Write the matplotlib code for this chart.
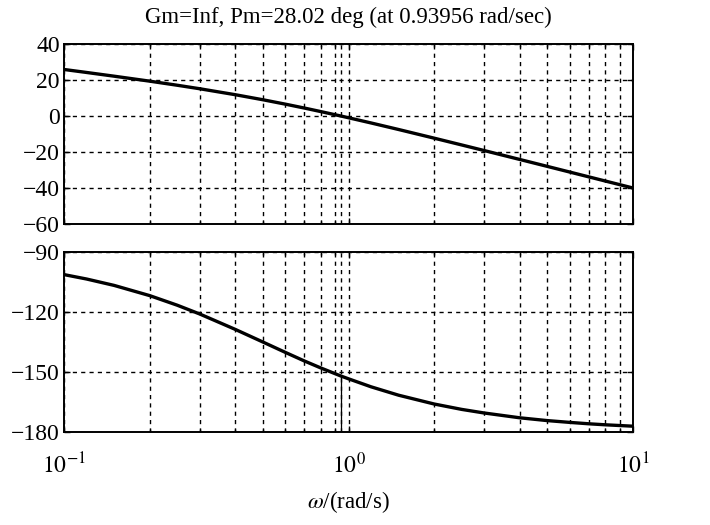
import matplotlib
matplotlib.use("Agg")
import matplotlib.pyplot as plt
from matplotlib.ticker import LogLocator, NullFormatter

plt.rcParams['font.family'] = ['Liberation Serif', 'DejaVu Serif']
plt.rcParams['mathtext.fontset'] = 'stix'

# values
w = [0.1, 0.12, 0.15, 0.2, 0.25, 0.3, 0.4, 0.5, 0.6, 0.7, 0.8, 0.94, 1.0,
     1.2, 1.5, 2, 2.5, 3, 4, 5, 6, 7, 8, 10]
mag_db = [25.85, 24.19, 22.12, 19.36, 17.09, 15.14, 11.83, 9.03, 6.58, 4.41,
          2.44, 0.0, -0.97, -3.86, -7.50, -12.31, -16.09, -19.20, -24.15,
          -28.0, -31.16, -33.83, -36.14, -40.0]
phase_deg = [-101.3, -103.5, -106.7, -111.8, -116.6, -121.0, -128.7, -135.0,
             -140.2, -144.5, -148.0, -152.0, -153.4, -157.4, -161.6, -166.0,
             -168.7, -170.5, -172.9, -174.3, -175.2, -175.9, -176.4, -177.1]
wcp = 0.93956
pm_phase = -151.98
title = 'Gm=Inf, Pm=28.02 deg (at 0.93956 rad/sec)'
mag_ticks = [40, 20, 0, -20, -40, -60]
phase_ticks = [-90, -120, -150, -180]

fig = plt.figure(figsize=(7.1, 5.25), dpi=100)
ax1 = fig.add_axes([64 / 710, 1 - 224 / 525, 569 / 710, 180 / 525])
ax2 = fig.add_axes([64 / 710, 1 - 432 / 525, 569 / 710, 180 / 525])

grid_kw = dict(color='black', linestyle=(0, (3, 3)), linewidth=1.0)
for ax in (ax1, ax2):
    ax.set_xscale('log')
    ax.set_xlim(0.1, 10)
    ax.xaxis.set_major_locator(LogLocator(base=10))
    ax.xaxis.set_minor_locator(LogLocator(base=10, subs=range(2, 10)))
    ax.xaxis.set_minor_formatter(NullFormatter())
    ax.grid(True, which='major', **grid_kw)
    ax.grid(True, which='minor', axis='x', **grid_kw)
    ax.axvline(wcp, **grid_kw)
    ax.tick_params(which='both', direction='in', top=True, right=True,
                   labelsize=17, length=4, width=1)
    ax.tick_params(which='minor', length=2)
    for s in ax.spines.values():
        s.set_linewidth(1.4)

ax1.plot(w, mag_db, color='black', linewidth=2.4)
ax1.set_ylim(-60, 40)
ax1.set_yticks(mag_ticks)
ax1.tick_params(labelbottom=False, pad=3)
ax1.set_title(title, fontsize=16.5, pad=15)

ax2.plot(w, phase_deg, color='black', linewidth=2.4)
ax2.plot([wcp, wcp], [-180, pm_phase], color='black', linewidth=0.9)
ax2.set_ylim(-180, -90)
ax2.set_yticks(phase_ticks)
ax2.tick_params(axis='y', pad=3)
ax2.set_xticks([0.1, 1, 10])
ax2.set_xticklabels(['$10^{-1}$', '$10^{0}$', '$10^{1}$'])
ax2.tick_params(axis='x', pad=15)
ax2.set_xlabel(r'$\omega$/(rad/s)', fontsize=16.5, labelpad=8)

fig.savefig('out.png', dpi=100)
